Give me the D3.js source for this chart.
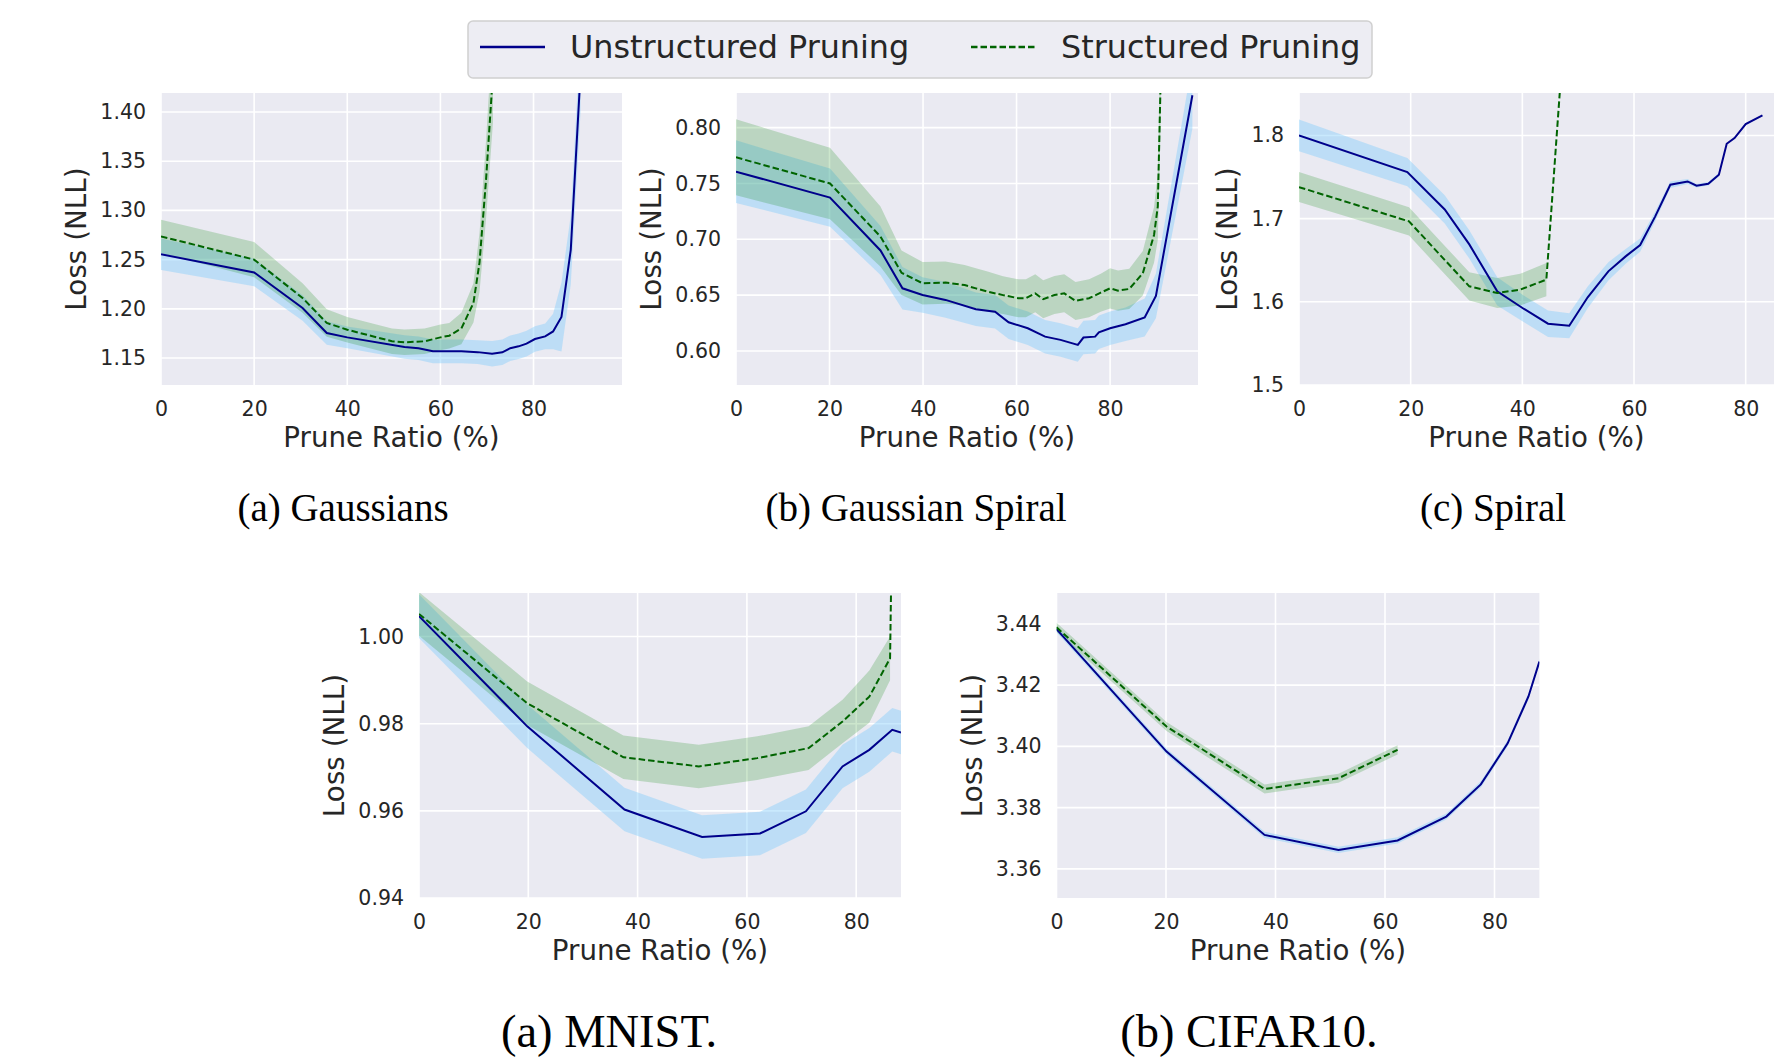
<!DOCTYPE html>
<html lang="en">
<head>
  <meta charset="UTF-8">
  <title>Prune Ratio vs Loss</title>
  <style>
    body { margin: 0; background: #fff; }
    text { font-family: 'DejaVu Sans', sans-serif; fill: #262626; }
    text.caption { font-family: 'Liberation Serif', 'Times New Roman', serif; fill: #000; }
  </style>
</head>
<body>
  <svg id="svg" width="1790" height="1060"></svg>

  <script src="https://d3js.org/d3.v7.min.js"></script>
  <script>
    // (a) Gaussians
    const gaussX_u = [0, 20, 30.4, 35.6, 40, 52.3, 55.3, 58.4, 64.5, 68, 71.1, 73.3, 75, 76.8, 78.5, 80.3, 82.5, 84.2, 86, 88, 90.1]
    const gaussY_u = [1.2554, 1.237, 1.2008, 1.1754, 1.171, 1.1612, 1.160, 1.1568, 1.1568, 1.156, 1.1544, 1.1558, 1.160, 1.1619, 1.1646, 1.1693, 1.172, 1.177, 1.1917, 1.260, 1.44]
    const gaussE_u = [0.016, 0.014, 0.013, 0.012, 0.011, 0.012, 0.012, 0.012, 0.012, 0.012, 0.013, 0.013, 0.013, 0.013, 0.013, 0.013, 0.013, 0.018, 0.035, 0.035, 0.04]
    const gaussX_s = [0, 20, 30.4, 35.6, 40, 49.6, 52.3, 56.6, 60, 61.9, 64.5, 67.1, 68.4, 69.8, 71.3]
    const gaussY_s = [1.2736, 1.250, 1.211, 1.1856, 1.1788, 1.167, 1.166, 1.167, 1.171, 1.1727, 1.180, 1.206, 1.247, 1.331, 1.44]
    const gaussE_s = [0.017, 0.018, 0.015, 0.014, 0.013, 0.013, 0.013, 0.013, 0.013, 0.013, 0.016, 0.02, 0.03, 0.04, 0.05]

    // (b) Gaussian Spiral
    const gspX_u = [0, 20.1, 30.9, 35.6, 39.9, 44.8, 51.3, 55.4, 58.3, 62.4, 66.1, 69.4, 73.1, 74.3, 76.8, 77.6, 80, 83.3, 87.4, 89.8, 97.6]
    const gspY_u = [0.7606, 0.7373, 0.690, 0.6561, 0.6501, 0.6457, 0.6373, 0.6352, 0.6257, 0.6203, 0.6128, 0.6099, 0.6054, 0.612, 0.6128, 0.6167, 0.6203, 0.6239, 0.6299, 0.6493, 0.829]
    const gspE_u = [0.028, 0.026, 0.022, 0.019, 0.016, 0.016, 0.015, 0.015, 0.015, 0.015, 0.015, 0.015, 0.015, 0.015, 0.015, 0.015, 0.015, 0.015, 0.017, 0.02, 0.03]
    const gspX_s = [0, 20.1, 30.9, 35.4, 39.9, 44.8, 48.9, 51.3, 53.8, 57.1, 60.4, 62, 64, 65.7, 68.1, 70.2, 72.6, 75.5, 78, 80, 81.7, 84.1, 87, 89.4, 90.2, 90.8]
    const gspY_s = [0.7734, 0.750, 0.7024, 0.670, 0.6606, 0.6612, 0.659, 0.656, 0.6531, 0.650, 0.6472, 0.6472, 0.6516, 0.6463, 0.6501, 0.6516, 0.6448, 0.6472, 0.6522, 0.6561, 0.654, 0.6555, 0.6696, 0.7039, 0.7293, 0.84]
    const gspE_s = [0.034, 0.032, 0.027, 0.02, 0.019, 0.019, 0.018, 0.018, 0.018, 0.017, 0.017, 0.017, 0.017, 0.017, 0.017, 0.017, 0.017, 0.017, 0.017, 0.018, 0.018, 0.018, 0.02, 0.025, 0.03, 0.04]

    // (c) Spiral
    const spX_u = [0, 19.4, 26.1, 30.5, 35.5, 40.3, 44.6, 48.4, 51.7, 55.4, 58.5, 61.1, 63.8, 66.5, 69.6, 71.2, 73.3, 75.2, 76.6, 78, 80, 83]
    const spY_u = [1.80, 1.756, 1.711, 1.669, 1.6126, 1.5914, 1.5737, 1.5713, 1.6054, 1.6366, 1.6546, 1.6682, 1.7027, 1.7407, 1.7447, 1.7395, 1.7419, 1.7527, 1.790, 1.7968, 1.8136, 1.824]
    const spE_u = [0.019, 0.017, 0.017, 0.017, 0.017, 0.016, 0.016, 0.015, 0.013, 0.011, 0.009, 0.008, 0.006, 0.004, 0.003, 0.002, 0.002, 0.002, 0.001, 0.001, 0.001, 0.001]
    const spX_s = [0, 19.7, 25.5, 30.5, 35.5, 39.6, 44.3, 46.9]
    const spY_s = [1.7379, 1.6967, 1.6546, 1.6186, 1.6106, 1.6146, 1.6266, 1.87]
    const spE_s = [0.018, 0.017, 0.017, 0.017, 0.018, 0.019, 0.02, null]

    // (a) MNIST
    const mnX_u = [0, 19.8, 37.6, 51.8, 62.4, 70.8, 77.5, 82.4, 86.6, 88.2]
    const mnY_u = [1.0047, 0.9794, 0.9603, 0.954, 0.9548, 0.9599, 0.9702, 0.974, 0.9786, 0.978]
    const mnE_u = [0.005, 0.005, 0.005, 0.005, 0.005, 0.005, 0.005, 0.005, 0.005, 0.005]
    const mnX_s = [0, 19.8, 37.4, 51.2, 61.9, 71.3, 77.5, 82.4, 86.2, 86.6]
    const mnY_s = [1.0052, 0.9847, 0.9723, 0.9702, 0.9721, 0.9744, 0.9805, 0.9862, 0.995, 1.03]
    const mnE_s = [0.005, 0.005, 0.005, 0.005, 0.005, 0.005, 0.005, 0.006, 0.005, null]

    // (b) CIFAR10
    const cfX_u = [0, 20.1, 38, 51.5, 62.3, 71.2, 77.5, 82.4, 86.2, 88.2]
    const cfY_u = [3.4383, 3.3983, 3.3711, 3.3662, 3.3693, 3.3771, 3.3876, 3.401, 3.4163, 3.4277]
    const cfE_u = [0.001, 0.001, 0.001, 0.001, 0.001, 0.001, 0.001, 0.001, 0.001, 0.001]
    const cfX_s = [0, 20.1, 38, 51.5, 62.3]
    const cfY_s = [3.4389, 3.4065, 3.3861, 3.3896, 3.3989]
    const cfE_s = [0.0015, 0.0015, 0.0015, 0.0015, 0.0015]

    const xTicks = [0, 20, 40, 60, 80]
    const seriesNames = ['Unstructured Pruning', 'Structured Pruning']
    const captions = ['(a) Gaussians', '(b) Gaussian Spiral', '(c) Spiral', '(a) MNIST.', '(b) CIFAR10.']

    const panels = [
      { left: 161, right: 622, top: 93, bottom: 385, xMax: 99, yDomain: [1.1226, 1.4193],
        yTicks: [1.15, 1.20, 1.25, 1.30, 1.35, 1.40], fmt: '.2f',
        u: [gaussX_u, gaussY_u, gaussE_u], s: [gaussX_s, gaussY_s, gaussE_s],
        caption: captions[0], capX: 343, capY: 521, capSize: 39 },
      { left: 736, right: 1198, top: 93, bottom: 385, xMax: 98.8, yDomain: [0.5695, 0.831],
        yTicks: [0.60, 0.65, 0.70, 0.75, 0.80], fmt: '.2f',
        u: [gspX_u, gspY_u, gspE_u], s: [gspX_s, gspY_s, gspE_s],
        caption: captions[1], capX: 916, capY: 521, capSize: 39 },
      { left: 1299, right: 1774, top: 93, bottom: 385, xMax: 85.07, yDomain: [1.5, 1.851],
        yTicks: [1.5, 1.6, 1.7, 1.8], fmt: '.1f',
        u: [spX_u, spY_u, spE_u], s: [spX_s, spY_s, spE_s],
        caption: captions[2], capX: 1493, capY: 521, capSize: 39 },
      { left: 419, right: 901, top: 593, bottom: 898, xMax: 88.2, yDomain: [0.94, 1.010],
        yTicks: [0.94, 0.96, 0.98, 1.00], fmt: '.2f',
        u: [mnX_u, mnY_u, mnE_u], s: [mnX_s, mnY_s, mnE_s],
        caption: captions[3], capX: 609, capY: 1047, capSize: 46.5 },
      { left: 1056.5, right: 1539.4, top: 593, bottom: 898, xMax: 88.2, yDomain: [3.3505, 3.4501],
        yTicks: [3.36, 3.38, 3.40, 3.42, 3.44], fmt: '.2f',
        u: [cfX_u, cfY_u, cfE_u], s: [cfX_s, cfY_s, cfE_s],
        caption: captions[4], capX: 1249, capY: 1047, capSize: 46.5 }
    ]

    const styles = {
      u: { line: '#00008b', band: '#87cefa', bandOpacity: 0.45, dash: null },
      s: { line: '#006400', band: '#008000', bandOpacity: 0.2, dash: '6.5,3' }
    }

    const svg = d3.select('#svg')

    panels.forEach((p, i) => {
      const xScale = d3.scaleLinear().domain([0, p.xMax]).range([p.left, p.right])
      const yScale = d3.scaleLinear().domain(p.yDomain).range([p.bottom, p.top])
      const g = svg.append('g')

      g.append('clipPath').attr('id', 'clip' + i)
        .append('rect')
        .attr('x', p.left).attr('y', p.top)
        .attr('width', p.right - p.left).attr('height', p.bottom - p.top)

      g.append('rect')
        .attr('x', p.left).attr('y', p.top)
        .attr('width', p.right - p.left).attr('height', p.bottom - p.top)
        .attr('fill', '#eaeaf2')

      // grid
      g.selectAll('.vgrid').data(xTicks).enter().append('line')
        .attr('x1', d => xScale(d)).attr('x2', d => xScale(d))
        .attr('y1', p.top).attr('y2', p.bottom)
        .attr('stroke', '#fff').attr('stroke-width', 1.6)
      g.selectAll('.hgrid').data(p.yTicks).enter().append('line')
        .attr('y1', d => yScale(d)).attr('y2', d => yScale(d))
        .attr('x1', p.left).attr('x2', p.right)
        .attr('stroke', '#fff').attr('stroke-width', 1.6)

      // axes
      const xAxis = g.append('g')
        .attr('transform', `translate(0,${p.bottom})`)
        .call(d3.axisBottom(xScale).tickValues(xTicks).tickSize(0).tickPadding(16))
      const yAxis = g.append('g')
        .attr('transform', `translate(${p.left},0)`)
        .call(d3.axisLeft(yScale).tickValues(p.yTicks).tickSize(0).tickPadding(15).tickFormat(d3.format(p.fmt)))
      ;[xAxis, yAxis].forEach(a => {
        a.select('.domain').remove()
        a.selectAll('text')
          .style('font-family', "'DejaVu Sans', sans-serif")
          .style('font-size', '20.5px')
          .attr('fill', '#262626')
      })

      let tickW = 0
      yAxis.selectAll('text').each(function () { tickW = Math.max(tickW, this.getComputedTextLength()) })

      g.append('text')
        .attr('transform', `translate(${p.left - tickW - 38},${(p.top + p.bottom) / 2}) rotate(-90)`)
        .attr('text-anchor', 'middle')
        .attr('dy', '0.32em')
        .style('font-size', '27.8px')
        .text('Loss (NLL)')

      g.append('text')
        .attr('x', (p.left + p.right) / 2)
        .attr('y', p.bottom + 62)
        .attr('text-anchor', 'middle')
        .style('font-size', '27.7px')
        .text('Prune Ratio (%)')

      const plot = g.append('g').attr('clip-path', `url(#clip${i})`)

      const rowsOf = arr => arr[0].map((v, k) => ({ x: v, y: arr[1][k], e: arr[2][k] }))

      const band = d3.area()
        .defined(d => d.e != null)
        .x(d => xScale(d.x))
        .y0(d => yScale(d.y - d.e))
        .y1(d => yScale(d.y + d.e))
      const line = d3.line()
        .x(d => xScale(d.x))
        .y(d => yScale(d.y))

      ;['u', 's'].forEach(k => {
        plot.append('path')
          .datum(rowsOf(p[k]))
          .attr('d', band)
          .attr('fill', styles[k].band)
          .attr('fill-opacity', styles[k].bandOpacity)
      })
      ;['u', 's'].forEach(k => {
        plot.append('path')
          .datum(rowsOf(p[k]))
          .attr('d', line)
          .attr('fill', 'none')
          .attr('stroke', styles[k].line)
          .attr('stroke-width', 2)
          .attr('stroke-dasharray', styles[k].dash)
      })

      svg.append('text')
        .attr('class', 'caption')
        .attr('x', p.capX)
        .attr('y', p.capY)
        .attr('text-anchor', 'middle')
        .style('font-size', p.capSize + 'px')
        .text(p.caption)
    })

    // legend
    const legend = svg.append('g')
    legend.append('rect')
      .attr('x', 468).attr('y', 21)
      .attr('width', 904).attr('height', 57)
      .attr('rx', 5)
      .attr('fill', '#ededf3')
      .attr('stroke', '#d0d0d0')
      .attr('stroke-width', 1.5)

    const legendX = [480, 971]
    seriesNames.forEach((name, i) => {
      const st = i === 0 ? styles.u : styles.s
      legend.append('line')
        .attr('x1', legendX[i]).attr('x2', legendX[i] + 65)
        .attr('y1', 47).attr('y2', 47)
        .attr('stroke', st.line)
        .attr('stroke-width', 2.5)
        .attr('stroke-dasharray', st.dash)
      legend.append('text')
        .attr('x', legendX[i] + 90)
        .attr('y', 58)
        .style('font-size', '31.8px')
        .text(name)
    })
  </script>
</body>
</html>
